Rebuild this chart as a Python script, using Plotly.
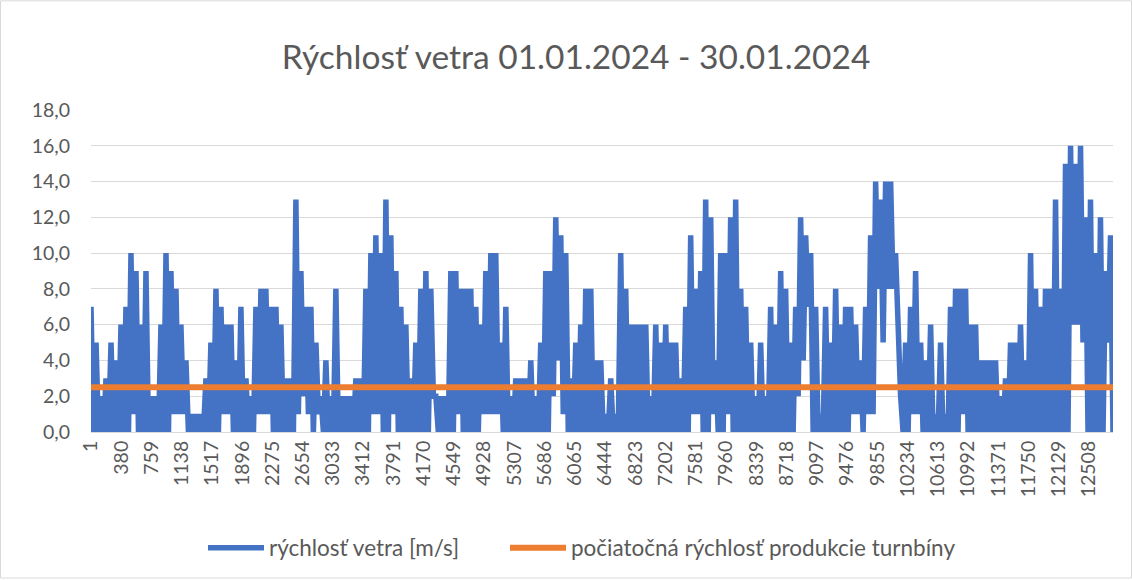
import numpy as np
import plotly.graph_objects as go

# ---- data (envelope per ~5px column block) ----
N_POINTS = 12810
wind_high = [
    7, 5, 2, 3, 5, 4, 6, 7, 10, 9, 6, 9, 2, 2, 6, 10,
    9, 8, 6, 4, 1, 1, 1, 3, 5, 8, 7, 6, 6, 4, 7, 3, 2,
    7, 8, 8, 7, 7, 6, 3, 3, 13, 9, 7, 7, 5, 2, 4, 2, 8,
    2, 2, 2, 3, 3, 8, 10, 11, 10, 13, 11, 9, 7, 6, 3, 5, 8,
    9, 8, 2, 2, 2, 9, 9, 8, 8, 8, 7, 6, 9, 10, 10, 5, 7,
    2, 3, 3, 3, 4, 2, 5, 9, 9, 12, 11, 10, 3, 5, 6, 8, 8,
    4, 4, 1, 3, 1, 10, 8, 6, 6, 6, 6, 2, 6, 5, 6, 5, 5,
    3, 7, 11, 8, 9, 13, 12, 4, 10, 10, 12, 13, 8, 7, 5, 2, 5,
    2, 7, 6, 9, 8, 5, 7, 12, 11, 10, 7, 1, 7, 5, 8, 6, 7,
    7, 6, 4, 7, 11, 14, 13, 14, 14, 10, 2, 5, 7, 9, 5, 4, 6,
    1, 5, 1, 7, 8, 8, 8, 6, 6, 4, 4, 4, 4, 2, 3, 5, 5,
    6, 4, 10, 8, 7, 8, 8, 13, 8, 15, 16, 15, 16, 12, 13, 10, 12, 9, 11,
]
wind_low = [
    0, 0, 0, 0, 0, 0, 0, 0, 1, 0, 0, 0, 0, 0, 0, 0,
    1, 1, 1, 0, 0, 0, 0, 0, 0, 0, 1, 1, 0, 0, 0, 0, 0,
    1, 1, 1, 0, 0, 0, 0, 0, 1, 2, 1, 0, 1, 0, 0, 0, 0,
    0, 0, 0, 0, 0, 0, 1, 1, 0, 0, 1, 0, 0, 0, 0, 0, 0,
    0, 2, 0, 0, 0, 0, 1, 0, 0, 0, 0, 1, 1, 1, 1, 0, 0,
    0, 0, 0, 0, 0, 0, 0, 0, 2, 4, 1, 0, 0, 0, 0, 0, 0,
    0, 0, 0, 0, 0, 0, 0, 0, 0, 0, 0, 0, 0, 0, 0, 0, 0,
    0, 0, 1, 1, 0, 0, 1, 0, 0, 1, 0, 0, 0, 0, 0, 0, 0,
    0, 0, 0, 0, 0, 0, 2, 4, 7, 0, 0, 0, 0, 0, 0, 0, 0,
    1, 1, 0, 1, 1, 8, 5, 8, 8, 5, 0, 0, 1, 1, 0, 0, 0,
    0, 0, 0, 0, 0, 1, 0, 0, 0, 0, 0, 0, 0, 0, 0, 0, 0,
    0, 0, 0, 0, 0, 0, 0, 0, 0, 0, 6, 6, 5, 0, 0, 0, 0, 5, 0,
]
start_speed = 2.5
tick_labels = ["1", "380", "759", "1138", "1517", "1896", "2275", "2654", "3033",
               "3412", "3791", "4170", "4549", "4928", "5307", "5686", "6065",
               "6444", "6823", "7202", "7581", "7960", "8339", "8718", "9097",
               "9476", "9855", "10234", "10613", "10992", "11371", "11750",
               "12129", "12508"]

# ---- build series ----
wind_y = []
for h, l in zip(wind_high, wind_low):
    wind_y += [h, l]
wind_x = np.round(np.linspace(1, N_POINTS, len(wind_y))).astype(int)

GRAY = "#595959"
FONT = "Lato, Carlito, Calibri, sans-serif"
PW = 1022.0  # plot width px
PH = 323.0   # plot height px

fig = go.Figure()
fig.add_trace(go.Scatter(
    x=wind_x, y=wind_y, mode="lines", name="rýchlosť vetra [m/s]",
    line=dict(color="#4472C4", width=5.5), legend="legend",
))
fig.add_trace(go.Scatter(
    x=[1, N_POINTS], y=[start_speed, start_speed], mode="lines",
    name="počiatočná rýchlosť produkcie turnbíny",
    line=dict(color="#ED7D31", width=6), legend="legend2",
))

leg_common = dict(orientation="h", yanchor="middle", y=-(548 - 433) / PH,
                  xanchor="left", itemwidth=56, bgcolor="rgba(0,0,0,0)",
                  font=dict(size=22.5, color=GRAY, family=FONT))

fig.update_layout(
    width=1132, height=580,
    margin=dict(l=91, r=19, t=110, b=147),
    paper_bgcolor="white", plot_bgcolor="white",
    separators=", ",
    font=dict(family=FONT, color=GRAY),
    title=dict(text="Rýchlosť vetra 01.01.2024 - 30.01.2024",
               x=576 / 1132, xanchor="center", y=1 - 57 / 580, yanchor="middle",
               font=dict(size=33.5, color=GRAY, family=FONT)),
    showlegend=True,
    legend=dict(x=(203 - 91) / PW, **leg_common),
    legend2=dict(x=(505 - 91) / PW, **leg_common),
    xaxis=dict(range=[1, N_POINTS], tickmode="array",
               tickvals=[int(t) for t in tick_labels], ticktext=tick_labels,
               tickangle=-90, tickfont=dict(size=19.5, color=GRAY),
               showgrid=False, zeroline=False, showline=True,
               linecolor="#D9D9D9", linewidth=1, ticks=""),
    yaxis=dict(range=[0, 18], dtick=2, tickformat=".1f",
               tickfont=dict(size=19.5, color=GRAY),
               showgrid=True, gridcolor="#D9D9D9", gridwidth=1,
               zeroline=False, showline=False, ticks="",
               ticklabelstandoff=20),
    shapes=[dict(type="rect", xref="paper", yref="paper",
                 x0=-90.5 / PW, x1=1 + 18.5 / PW,
                 y0=-146.5 / PH, y1=1 + 109.5 / PH,
                 line=dict(color="#D9D9D9", width=1), layer="below")],
)

fig.write_html("out.html",
               config={"displayModeBar": False},
               post_script="document.body.style.margin='0';"
                           "document.body.style.overflow='hidden';")
